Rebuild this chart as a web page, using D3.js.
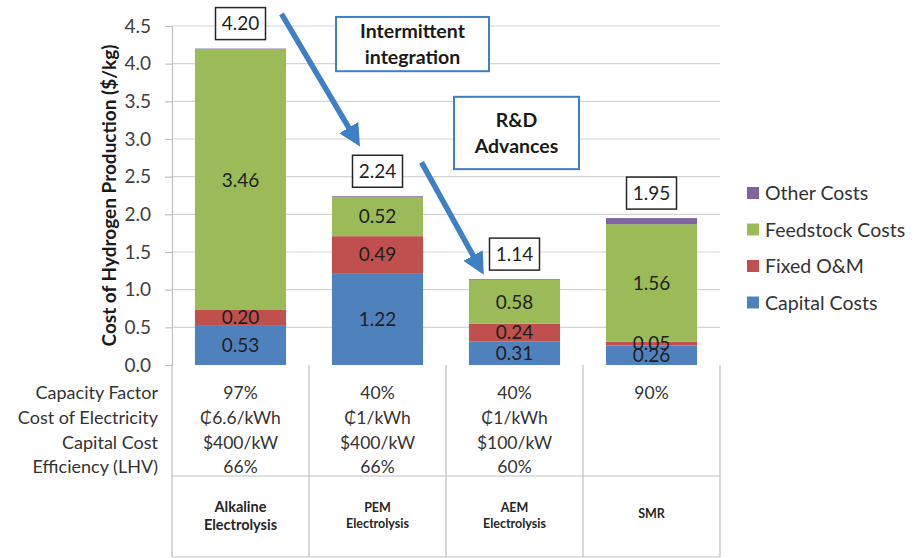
<!DOCTYPE html>
<html>
<head>
<meta charset="utf-8">
<script src="https://cdn.jsdelivr.net/npm/d3@7"></script>
<style>
  html, body { margin: 0; padding: 0; background: #fff; }
  svg { display: block; font-family: Lato, "Open Sans", sans-serif; }
</style>
</head>
<body>
<svg id="chart" width="920" height="558"></svg>
<script>
// Hydrogen production cost by pathway ($/kg), stacked by cost component
const categories = ["Alkaline Electrolysis", "PEM Electrolysis", "AEM Electrolysis", "SMR"];
const categoryLines = [["Alkaline", "Electrolysis"], ["PEM", "Electrolysis"], ["AEM", "Electrolysis"], ["SMR"]];
const capitalCosts   = [0.53, 1.22, 0.31, 0.26];
const fixedOM        = [0.20, 0.49, 0.24, 0.05];
const feedstockCosts = [3.46, 0.52, 0.58, 1.56];
const otherCosts     = [0.01, 0.01, 0.01, 0.08];
const totals         = [4.20, 2.24, 1.14, 1.95];

const seriesNames  = ["Capital Costs", "Fixed O&M", "Feedstock Costs", "Other Costs"];
const seriesColors = ["#4f81bd", "#c0504d", "#9bbb59", "#8064a2"];
const yTicks = [0, 0.5, 1, 1.5, 2, 2.5, 3, 3.5, 4, 4.5];

// Assumptions table shown under each bar
const rowLabels = ["Capacity Factor", "Cost of Electricity", "Capital Cost", "Efficiency (LHV)"];
const capacityFactor = ["97%", "40%", "40%", "90%"];
const electricityCost = ["₵6.6/kWh", "₵1/kWh", "₵1/kWh", ""];
const capitalCostKW = ["$400/kW", "$400/kW", "$100/kW", ""];
const efficiency = ["66%", "66%", "60%", ""];

const svg = d3.select("#chart");
const margin = { left: 172, right: 200, top: 26, bottom: 193 };
const W = 920, H = 558;
const plotL = margin.left, plotR = W - margin.right, plotT = margin.top, plotB = H - margin.bottom;

const x = d3.scaleBand().domain(categories).range([plotL, plotR]).paddingInner(0).paddingOuter(0);
const barW = x.bandwidth() * 0.665;
const y = d3.scaleLinear().domain([0, 4.5]).range([plotB, plotT]);

// gridlines
svg.append("g")
  .selectAll("line").data(yTicks.slice(1)).join("line")
  .attr("x1", plotL).attr("x2", plotR)
  .attr("y1", d => y(d)).attr("y2", d => y(d))
  .attr("stroke", "#d4d4d4").attr("stroke-width", 1.2);

// y axis
const yAxis = d3.axisLeft(y).tickValues(yTicks).tickFormat(d3.format(".1f")).tickSize(7).tickPadding(14);
const gy = svg.append("g").attr("transform", `translate(${plotL},0)`).call(yAxis);
gy.select(".domain").attr("stroke", "#bfbfbf").attr("stroke-width", 1.2);
gy.selectAll(".tick line").attr("stroke", "#bfbfbf").attr("stroke-width", 1.2);
gy.selectAll(".tick text").attr("font-size", 19).attr("fill", "#404040").attr("font-family", "Lato, sans-serif");

svg.append("text")
  .attr("transform", `translate(116,${(plotT + plotB) / 2}) rotate(-90)`)
  .attr("text-anchor", "middle")
  .attr("font-size", 19).attr("font-weight", "bold").attr("fill", "#1a1a1a")
  .text("Cost of Hydrogen Production ($/kg)");

// stacked bars
const rows = categories.map((c, i) => ({
  cat: c,
  "Capital Costs": capitalCosts[i],
  "Fixed O&M": fixedOM[i],
  "Feedstock Costs": feedstockCosts[i],
  "Other Costs": otherCosts[i]
}));
const stacked = d3.stack().keys(seriesNames)(rows);
const color = d3.scaleOrdinal().domain(seriesNames).range(seriesColors);

const gBars = svg.append("g");
stacked.forEach(layer => {
  gBars.append("g").attr("fill", color(layer.key))
    .selectAll("rect").data(layer).join("rect")
    .attr("x", d => x(d.data.cat) + (x.bandwidth() - barW) / 2)
    .attr("width", barW)
    .attr("y", d => y(d[1]))
    .attr("height", d => y(d[0]) - y(d[1]));
});

// segment value labels (the tiny "Other" slices are unlabeled)
stacked.filter(l => l.key !== "Other Costs").forEach(layer => {
  svg.append("g").selectAll("text").data(layer).join("text")
    .attr("x", d => x(d.data.cat) + x.bandwidth() / 2)
    .attr("y", d => y((d[0] + d[1]) / 2))
    .attr("dy", "0.36em")
    .attr("text-anchor", "middle")
    .attr("font-size", 19).attr("fill", "#1f1f1f")
    .text(d => (d[1] - d[0]).toFixed(2));
});

// total labels in boxes above the bars
const gTot = svg.append("g");
categories.forEach((c, i) => {
  const cx = x(c) + x.bandwidth() / 2;
  const cy = y(totals[i]) - 25;
  const g = gTot.append("g");
  g.append("rect").attr("x", cx - 25).attr("y", cy - 16).attr("width", 50).attr("height", 32)
    .attr("fill", "#fff").attr("stroke", "#262626").attr("stroke-width", 1.5);
  g.append("text").attr("x", cx).attr("y", cy).attr("dy", "0.36em")
    .attr("text-anchor", "middle").attr("font-size", 19).attr("fill", "#1f1f1f")
    .text(totals[i].toFixed(2));
});

// arrows between pathways
const defs = svg.append("defs");
defs.append("marker").attr("id", "head").attr("viewBox", "0 0 10 10")
  .attr("refX", 6).attr("refY", 5).attr("markerWidth", 4).attr("markerHeight", 4)
  .attr("orient", "auto-start-reverse")
  .append("path").attr("d", "M0,0 L10,5 L0,10 z").attr("fill", "#3f7fc6");

const cxOf = c => x(c) + x.bandwidth() / 2;
const arrows = [
  { x1: cxOf(categories[0]) + 41, y1: y(4.66), x2: cxOf(categories[1]) - 22, y2: y(3.0) },
  { x1: cxOf(categories[1]) + 44, y1: y(2.69), x2: cxOf(categories[2]) - 35, y2: y(1.3) }
];
svg.append("g").selectAll("line").data(arrows).join("line")
  .attr("x1", d => d.x1).attr("y1", d => d.y1).attr("x2", d => d.x2).attr("y2", d => d.y2)
  .attr("stroke", "#3f7fc6").attr("stroke-width", 5.5).attr("marker-end", "url(#head)");

// annotation boxes
const notes = [
  { lines: ["Intermittent", "integration"], x0: 336, x1: 489, v0: 4.62, v1: 3.9 },
  { lines: ["R&D", "Advances"], x0: 454, x1: 579, v0: 3.56, v1: 2.6 }
];
notes.forEach(n => {
  const top = y(n.v0), bot = y(n.v1);
  svg.append("rect").attr("x", n.x0).attr("y", top).attr("width", n.x1 - n.x0).attr("height", bot - top)
    .attr("fill", "#fff").attr("stroke", "#3f7fc6").attr("stroke-width", 2);
  const mid = (top + bot) / 2;
  n.lines.forEach((t, k) => {
    svg.append("text").attr("x", (n.x0 + n.x1) / 2).attr("y", mid + (k - 0.5) * 26)
      .attr("dy", "0.36em").attr("text-anchor", "middle")
      .attr("font-size", 19.5).attr("font-weight", "bold").attr("fill", "#1a1a1a").text(t);
  });
});

// legend
const legendItems = seriesNames.slice().reverse();
const lg = svg.append("g").attr("transform", "translate(747,193)");
legendItems.forEach((name, i) => {
  const g = lg.append("g").attr("transform", `translate(0,${i * 36.5})`);
  g.append("rect").attr("x", 0).attr("y", -6).attr("width", 12).attr("height", 12).attr("fill", color(name));
  g.append("text").attr("x", 18).attr("y", 0).attr("dy", "0.36em")
    .attr("font-size", 19.5).attr("fill", "#333").text(name);
});

// table under the plot
const tableMid = 476, tableBot = 557;
const tg = svg.append("g").attr("stroke", "#bfbfbf").attr("stroke-width", 1.2);
const colEdges = categories.map(c => x(c)).concat([x(categories[categories.length - 1]) + x.bandwidth()]);
colEdges.forEach(ex => {
  tg.append("line").attr("x1", ex).attr("x2", ex).attr("y1", plotB).attr("y2", tableBot);
});
tg.append("line").attr("x1", plotL).attr("x2", plotR).attr("y1", tableMid).attr("y2", tableMid);
tg.append("line").attr("x1", plotL).attr("x2", plotR).attr("y1", tableBot).attr("y2", tableBot);

const rowY = [393, 418, 443, 467];
rowLabels.forEach((t, r) => {
  svg.append("text").attr("x", 158).attr("y", rowY[r]).attr("dy", "0.36em")
    .attr("text-anchor", "end").attr("font-size", 18).attr("fill", "#333").text(t);
});
const tableCols = [capacityFactor, electricityCost, capitalCostKW, efficiency];
tableCols.forEach((vals, r) => {
  svg.append("g").selectAll("text").data(categories).join("text")
    .attr("x", d => x(d) + x.bandwidth() / 2)
    .attr("y", rowY[r]).attr("dy", "0.36em")
    .attr("text-anchor", "middle").attr("font-size", 17.5).attr("fill", "#333")
    .text((d, i) => vals[i]);
});

// pathway names
categoryLines.forEach((lines, i) => {
  const cx = x(categories[i]) + x.bandwidth() / 2;
  const fs = i === 0 ? 14.5 : 12.5;
  const base = lines.length === 2 ? 507 : 513;
  lines.forEach((t, k) => {
    svg.append("text").attr("x", cx).attr("y", base + k * (i === 0 ? 18 : 16)).attr("dy", "0.36em")
      .attr("text-anchor", "middle").attr("font-size", fs).attr("font-weight", "bold")
      .attr("fill", "#262626").text(t);
  });
});
</script>
</body>
</html>
